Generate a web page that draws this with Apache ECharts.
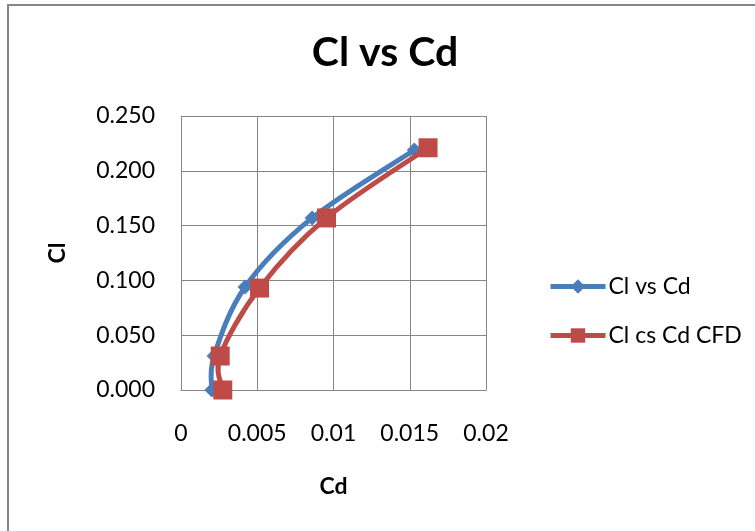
<!DOCTYPE html>
<html>
<head>
<meta charset="utf-8">
<script src="https://cdn.jsdelivr.net/npm/echarts@6/dist/echarts.min.js"></script>
<style>
html,body{margin:0;padding:0;background:#fff;}
#main{width:755px;height:531px;}
</style>
</head>
<body>
<div id="main"></div>
<script>
const titleText = 'Cl vs Cd';
const xName = 'Cd';
const yName = 'Cl';
const seriesNames = ['Cl vs Cd', 'Cl cs Cd CFD'];
const cdExp = [0.00202, 0.00217, 0.0042, 0.0086, 0.0153];
const clExp = [0.000, 0.031, 0.094, 0.157, 0.219];
const cdCfd = [0.00274, 0.00257, 0.00515, 0.00954, 0.0162];
const clCfd = [0.000, 0.031, 0.093, 0.157, 0.221];

const BLUE = '#4A7EBB', RED = '#BE4B48';
const FONT = 'Lato, "Open Sans", sans-serif';

// Excel-like smoothed curve (Catmull-Rom Bezier) through points mapped by the axes
function smoothRender(xs, ys, color) {
  return function (params, api) {
    if (params.dataIndex !== 0) return null;
    const p = xs.map((x, k) => api.coord([x, ys[k]]));
    const n = p.length;
    const children = [];
    for (let i = 0; i < n - 1; i++) {
      const p0 = p[Math.max(i - 1, 0)], p1 = p[i], p2 = p[i + 1], p3 = p[Math.min(i + 2, n - 1)];
      children.push({
        type: 'bezierCurve',
        shape: {
          x1: p1[0], y1: p1[1], x2: p2[0], y2: p2[1],
          cpx1: p1[0] + (p2[0] - p0[0]) / 6, cpy1: p1[1] + (p2[1] - p0[1]) / 6,
          cpx2: p2[0] - (p3[0] - p1[0]) / 6, cpy2: p2[1] - (p3[1] - p1[1]) / 6
        },
        style: {fill: null, stroke: color, lineWidth: 5, lineCap: 'round', lineJoin: 'round'}
      });
    }
    return {type: 'group', children: children};
  };
}

const chart = echarts.init(document.getElementById('main'));
chart.setOption({
  backgroundColor: '#fff',
  animation: false,
  graphic: [{
    type: 'rect',
    shape: {x: 8, y: 5, width: 800, height: 600},
    style: {fill: 'none', stroke: '#868686', lineWidth: 2},
    silent: true
  }],
  title: {
    text: titleText,
    left: 380, textAlign: 'center', top: 27,
    textStyle: {fontFamily: FONT, fontSize: 41, fontWeight: 'bold', color: '#000'}
  },
  legend: {
    orient: 'vertical',
    left: 543, top: 270,
    itemWidth: 55, itemHeight: 18, itemGap: 26,
    lineStyle: {width: 5, opacity: 1},
    textStyle: {fontFamily: FONT, fontSize: 23, color: '#000', padding: [0,0,0,-2]},
    data: seriesNames
  },
  grid: {left: 181, right: 269, top: 116, bottom: 141},
  xAxis: {
    type: 'value', min: 0, max: 0.02, interval: 0.005,
    name: xName, nameLocation: 'middle', nameGap: 85,
    nameTextStyle: {fontFamily: FONT, fontSize: 23, fontWeight: 'bold', color: '#000'},
    axisLine: {show: true, onZero: false, lineStyle: {color: '#868686', width: 1}},
    axisTick: {show: false},
    splitLine: {show: true, lineStyle: {color: '#868686', width: 1}},
    axisLabel: {fontFamily: FONT, fontSize: 23, color: '#000', margin: 32,
      formatter: v => String(+v.toFixed(3))}
  },
  yAxis: {
    type: 'value', min: 0, max: 0.25, interval: 0.05,
    name: yName, nameLocation: 'middle', nameGap: 112, nameRotate: 90,
    nameTextStyle: {fontFamily: FONT, fontSize: 23, fontWeight: 'bold', color: '#000'},
    axisLine: {show: true, lineStyle: {color: '#868686', width: 1}},
    axisTick: {show: false},
    splitLine: {show: true, lineStyle: {color: '#868686', width: 1}},
    axisLabel: {fontFamily: FONT, fontSize: 23, color: '#000', margin: 26,
      formatter: v => v.toFixed(3)}
  },
  series: [{
    name: seriesNames[0] + ' curve', type: 'custom', clip: false,
    data: cdExp.map((x, i) => [x, clExp[i]]),
    renderItem: smoothRender(cdExp, clExp, BLUE),
    z: 2, silent: true
  }, {
    name: seriesNames[0], type: 'line',
    data: cdExp.map((x, i) => [x, clExp[i]]),
    symbol: 'diamond', symbolSize: 15,
    lineStyle: {color: BLUE, width: 5, opacity: 0},
    itemStyle: {color: BLUE},
    z: 3
  }, {
    name: seriesNames[1] + ' curve', type: 'custom', clip: false,
    data: cdCfd.map((x, i) => [x, clCfd[i]]),
    renderItem: smoothRender(cdCfd, clCfd, RED),
    z: 4, silent: true
  }, {
    name: seriesNames[1], type: 'line',
    data: cdCfd.map((x, i) => [x, clCfd[i]]),
    symbol: 'rect', symbolSize: 19,
    lineStyle: {color: RED, width: 5, opacity: 0},
    itemStyle: {color: RED},
    z: 5
  }]
});
</script>
</body>
</html>
